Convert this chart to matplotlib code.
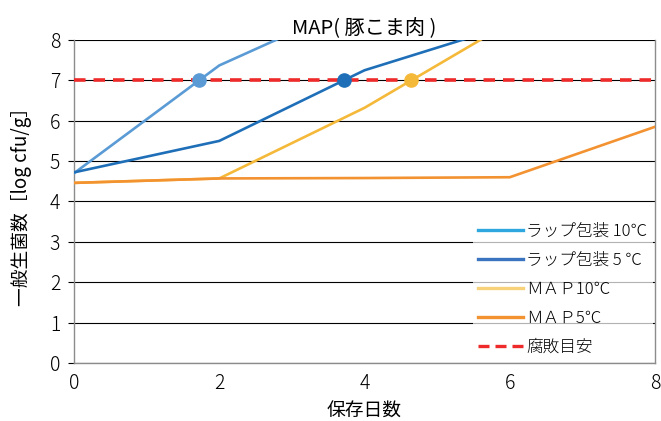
import numpy as np
import matplotlib
matplotlib.use("Agg")
import matplotlib.pyplot as plt
from matplotlib.lines import Line2D

plt.rcParams['font.family'] = ['Noto Sans CJK JP', 'DejaVu Sans']
plt.rcParams['font.weight'] = 'light'

# Data (days vs log cfu/g)
days = [0, 2, 4, 6, 8]
wrap_10 = [4.70, 7.37, 8.99]
wrap_5 = [4.72, 5.50, 7.25, 8.37]
map_10 = [4.46, 4.57, 6.32, 8.43]
map_5 = [4.46, 4.57, 4.58, 4.60, 5.85]
spoil_limit = 7

labels = ['ラップ包装 10℃', 'ラップ包装 5 ℃', 'ＭＡＰ10℃', 'ＭＡＰ5℃', '腐敗目安']
line_colors = ['#5b9bd5', '#1f6fb8', '#f5b93a', '#f39231']
legend_colors = ['#2ea7df', '#3a73c0', '#f8d27a', '#f39231']
red = '#ee2a2a'

fig = plt.figure(figsize=(6.61, 4.21), dpi=100)
ax = fig.add_axes([0.112, 0.138, 0.879, 0.767])

series = [wrap_10, wrap_5, map_10, map_5]
for vals, col in zip(series, line_colors):
    ax.plot(days[:len(vals)], vals, color=col, lw=1.9, zorder=3)

ax.axhline(spoil_limit, color=red, lw=2.6, ls=(0, (3.2, 2.2)), zorder=4)

# crossing points of the spoilage limit
for vals, col in zip(series[:3], line_colors[:3]):
    d = days[:len(vals)]
    x_cross = np.interp(spoil_limit, vals, d)
    ax.plot([x_cross], [spoil_limit], 'o', color=col, ms=9.5, zorder=5)

ax.set_xlim(0, 8)
ax.set_ylim(0, 8)
ax.set_xticks([0, 2, 4, 6, 8])
ax.set_yticks(range(9))
ax.grid(axis='y', color='black', lw=0.8)
ax.set_axisbelow(True)
ax.tick_params(axis='x', length=0, labelsize=14, pad=7)
ax.tick_params(axis='y', length=4, width=0.8, color='black', labelsize=14, pad=6)
ax.spines['top'].set_visible(False)
for s in ['left', 'bottom', 'right']:
    ax.spines[s].set_color('#8c8c8c')
    ax.spines[s].set_linewidth(1.0)

ax.set_title('MAP( 豚こま肉 )', fontsize=14.5, pad=4)
ax.set_xlabel('保存日数', fontsize=13.5, labelpad=5)
ax.set_ylabel('一般生菌数［log cfu/g］', fontsize=13.5, labelpad=13)

handles = [Line2D([], [], color=c, lw=2.4) for c in legend_colors]
handles.append(Line2D([], [], color=red, lw=2.4, ls=(0, (3.3, 1.8))))
leg = ax.legend(handles, labels, loc='lower right', fontsize=12,
                frameon=True, framealpha=0.7, facecolor='white',
                edgecolor='none', handlelength=2.7, labelspacing=0.72,
                borderaxespad=0.15, handletextpad=0.2, borderpad=0.3)
leg.set_zorder(6)

fig.savefig('out.png', dpi=100)
